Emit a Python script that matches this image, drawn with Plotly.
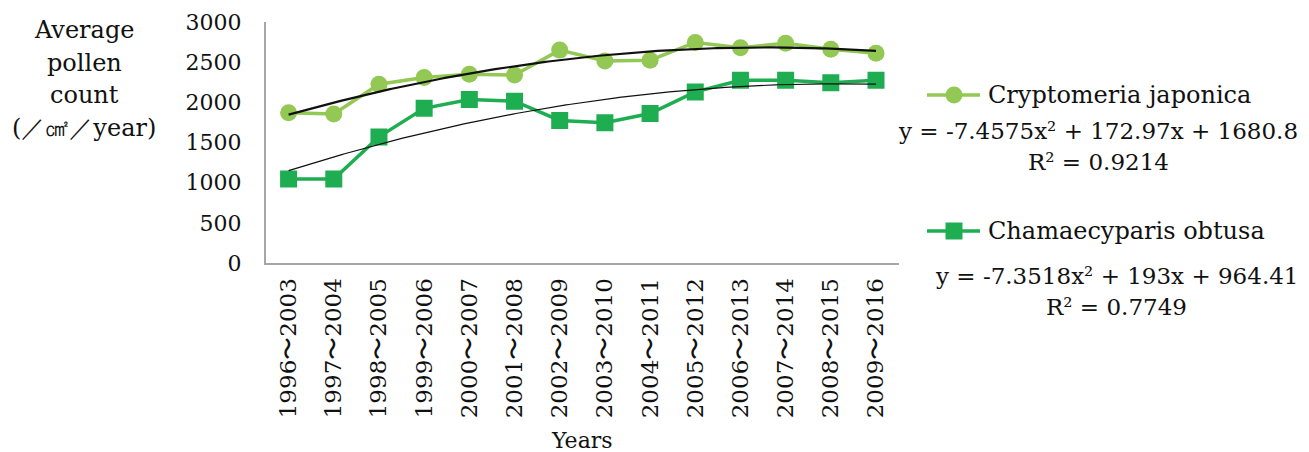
import numpy as np
import plotly.graph_objects as go

# ---- data ----
periods = ["1996〜2003", "1997〜2004", "1998〜2005", "1999〜2006", "2000〜2007",
           "2001〜2008", "2002〜2009", "2003〜2010", "2004〜2011", "2005〜2012",
           "2006〜2013", "2007〜2014", "2008〜2015", "2009〜2016"]
cryptomeria = [1870, 1855, 2225, 2310, 2350, 2340, 2650, 2515, 2525, 2745, 2680, 2735, 2660, 2610]
chamaecyparis = [1045, 1045, 1570, 1925, 2035, 2015, 1775, 1745, 1860, 2130, 2275, 2275, 2245, 2275]

# quadratic trend coefficients (a, b, c) for y = a x^2 + b x + c, x = 1..n
crypto_fit = (-7.4575, 172.97, 1680.8)
crypto_r2 = 0.9214
chama_fit = (-7.3518, 193, 964.41)
chama_r2 = 0.7749

y_ticks = [0, 500, 1000, 1500, 2000, 2500, 3000]

# ---- styling ----
W, H = 1309, 452
LIGHT = "#92C853"
DARK = "#1EAD50"
AXIS = "#A6A6A6"
INK = "#111111"
FONT = "DejaVu Serif"

# plot area in pixels
PX0, PX1 = 266, 898.6
PY0, PY1 = 22, 263

fig = go.Figure()

n = len(periods)
xi = np.arange(1, n + 1)

fig.add_trace(go.Scatter(
    x=xi, y=cryptomeria, mode="lines+markers", name="Cryptomeria japonica",
    line=dict(color=LIGHT, width=3.5),
    marker=dict(symbol="circle", size=17, color=LIGHT),
    xaxis="x", yaxis="y", showlegend=False,
))
fig.add_trace(go.Scatter(
    x=xi, y=chamaecyparis, mode="lines+markers", name="Chamaecyparis obtusa",
    line=dict(color=DARK, width=3.5),
    marker=dict(symbol="square", size=17, color=DARK),
    xaxis="x", yaxis="y", showlegend=False,
))

# trend curves
xs = np.linspace(1, n, 200)
for (a, b, c), w in ((crypto_fit, 2.2), (chama_fit, 1.2)):
    fig.add_trace(go.Scatter(
        x=xs, y=a * xs ** 2 + b * xs + c, mode="lines",
        line=dict(color=INK, width=w),
        xaxis="x", yaxis="y", showlegend=False, hoverinfo="skip",
    ))

# legend symbols on a pixel-space overlay axis
legend_rows = [
    (95, "circle", LIGHT, "Cryptomeria japonica"),
    (231, "square", DARK, "Chamaecyparis obtusa"),
]
for ly, sym, col, _ in legend_rows:
    fig.add_trace(go.Scatter(
        x=[927, 980], y=[ly, ly], mode="lines", line=dict(color=col, width=3.5),
        xaxis="x2", yaxis="y2", showlegend=False, hoverinfo="skip",
    ))
    fig.add_trace(go.Scatter(
        x=[954], y=[ly], mode="markers", marker=dict(symbol=sym, size=17, color=col),
        xaxis="x2", yaxis="y2", showlegend=False, hoverinfo="skip",
    ))

annotations = []
for ly, _, _, label in legend_rows:
    annotations.append(dict(x=986, y=ly, text=label, xanchor="left", font=dict(size=24)))


def equation(coef):
    a, b, c = coef
    return f"y = -{abs(a):g}x² + {b:g}x + {c:g}"


annotations += [
    dict(x=1098, y=131, text=equation(crypto_fit), font=dict(size=23)),
    dict(x=1098, y=162, text=f"R² = {crypto_r2:.4f}", font=dict(size=23)),
    dict(x=1116, y=276, text=equation(chama_fit), font=dict(size=23)),
    dict(x=1116, y=307, text=f"R² = {chama_r2:.4f}", font=dict(size=23)),
    dict(x=582, y=440, text="Years", font=dict(size=22)),
]
# y-axis title, one line at a time
for i, line in enumerate(["Average", "pollen", "count", "(／㎠／year)"]):
    annotations.append(dict(x=84, y=30 + 32.5 * i, text=line, font=dict(size=24)))

for an in annotations:
    an.setdefault("xanchor", "center")
    an.setdefault("yanchor", "middle")
    an.update(xref="x2", yref="y2", showarrow=False)
    an["font"] = dict(family=FONT, color=INK, **an["font"])

fig.update_layout(
    width=W, height=H,
    margin=dict(l=0, r=0, t=0, b=0, autoexpand=False),
    paper_bgcolor="white", plot_bgcolor="rgba(0,0,0,0)",
    font=dict(family=FONT, color=INK),
    showlegend=False,
    xaxis=dict(
        domain=[PX0 / W, PX1 / W], range=[0.5, n + 0.5], automargin=False,
        tickmode="array", tickvals=list(xi), ticktext=periods, tickangle=-90,
        tickfont=dict(size=23, family=FONT, color=INK),
        showgrid=False, zeroline=False, showline=True, linecolor=AXIS, linewidth=2,
        ticks="", ticklabelstandoff=4, fixedrange=True,
    ),
    yaxis=dict(
        domain=[(H - PY1) / H, (H - PY0) / H], range=[0, 3000], automargin=False,
        tickmode="array", tickvals=y_ticks,
        tickfont=dict(size=22, family=FONT, color=INK),
        showgrid=False, zeroline=False, showline=True, linecolor=AXIS, linewidth=2,
        ticks="", ticklabelstandoff=18, fixedrange=True,
    ),
    xaxis2=dict(domain=[0, 1], range=[0, W], visible=False, fixedrange=True,
                anchor="y2", automargin=False),
    yaxis2=dict(domain=[0, 1], range=[H, 0], visible=False, fixedrange=True,
                anchor="x2", automargin=False),
    annotations=annotations,
)

fig.write_html("out.html")
